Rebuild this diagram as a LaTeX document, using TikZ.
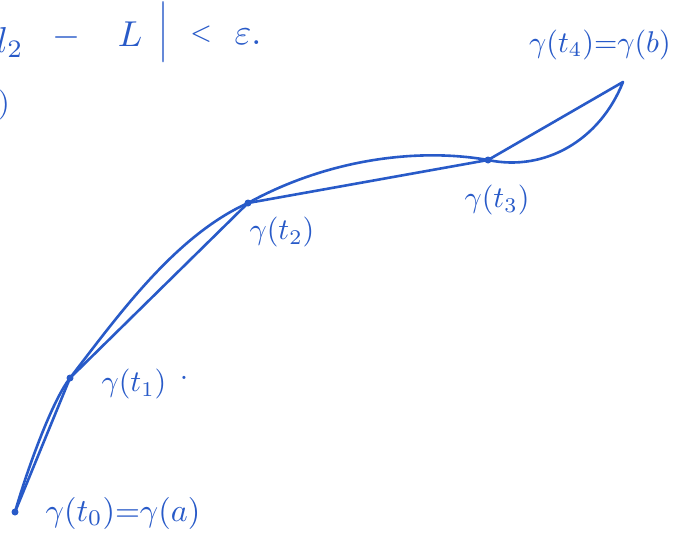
\documentclass[tikz,border=0pt]{standalone}
\definecolor{penblue}{RGB}{40,90,200}
\tikzset{
  pen/.style={draw=penblue, line width=2.6pt, line cap=round, line join=round},
  lbl/.style={text=penblue, scale=3.0, inner sep=0pt},
  big/.style={text=penblue, scale=3.6, inner sep=0pt},
  pt/.style={fill=penblue, circle, inner sep=0pt, minimum size=7pt}
}
\begin{document}
\begin{tikzpicture}[x=1pt,y=-1pt]
\useasboundingbox (0,0) rectangle (683,546);
% points on the curve
\coordinate (p0) at (15,512);
\coordinate (p1) at (70,378);
\coordinate (p2) at (248,203);
\coordinate (p3) at (488,160);
\coordinate (p4) at (623,82);
% curve
\draw[pen] (p0) .. controls (25.5,475.4) and (50.5,403.3) .. (p1)
              .. controls (118.8,314.8) and (175,236) .. (p2)
              .. controls (330,158) and (420,148) .. (p3)
              .. controls (545,172) and (600,140) .. (p4);
% inscribed polygon
\draw[pen] (p0) -- (p1) -- (p2) -- (p3) -- (p4);
% points
\foreach \p in {p0,p1,p2,p3} \node[pt] at (\p) {};
% labels
\node[lbl, scale=1.07] (l0) at (123,513) {$\gamma(t_0){=}\gamma(a)$};
\node[lbl] (l1) at (134,384) {$\gamma(t_1)$};
\node[lbl] (dot) at (184,378) {$.$};
\node[lbl] (l2) at (282,232) {$\gamma(t_2)$};
\node[lbl] (l3) at (497,200) {$\gamma(t_3)$};
\node[lbl] (l4) at (600,45) {$\gamma(t_4){=}\gamma(b)$};
% top text (partially cut)
\node[big, anchor=base west] (tl) at (-4,52) {$l_2$};
\node[big, anchor=base] (tm) at (66,46) {$-$};
\node[big, anchor=base] (tL) at (130,46) {$L$};
\node[big, yscale=1.7] (tb) at (163,32) {$|$};
\node[big, anchor=base] (tlt) at (201,40) {$\scriptstyle<$};
\node[big, anchor=base] (te) at (248,44) {$\varepsilon.$};
\node[lbl] (par) at (4,105) {$)$};
\end{tikzpicture}
\end{document}
